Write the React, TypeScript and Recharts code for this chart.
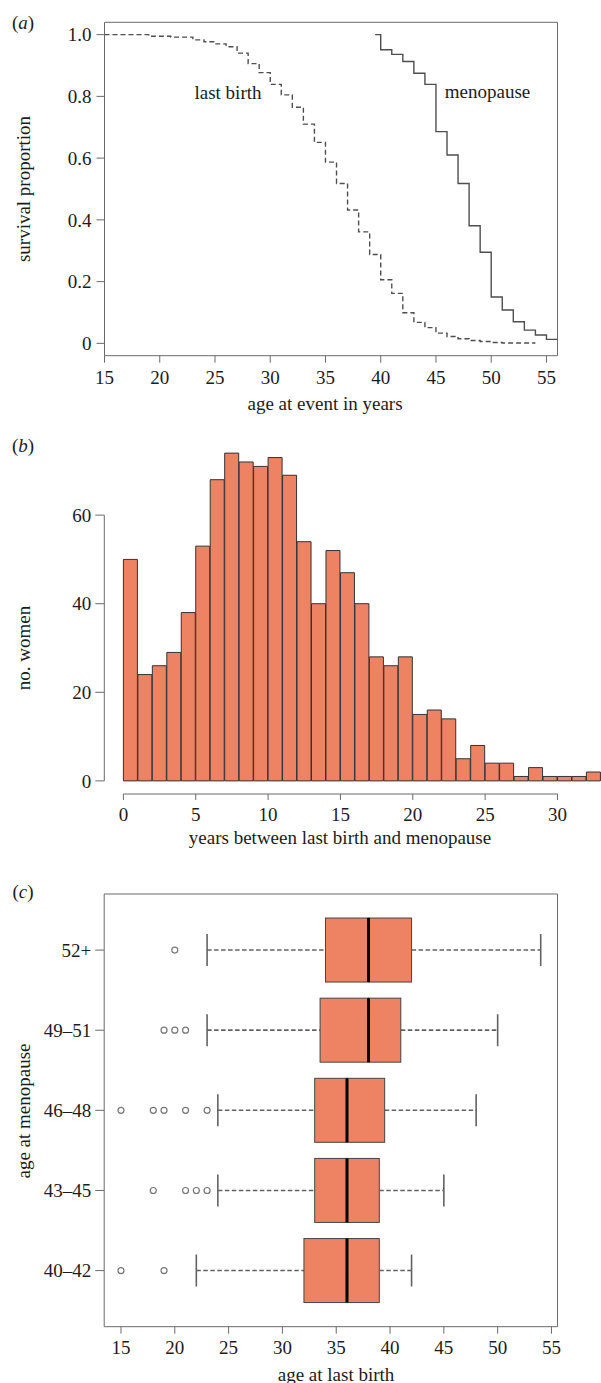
import React from "react";
import { LineChart, Line, BarChart, Bar, ComposedChart, Scatter, XAxis, YAxis, ReferenceLine } from "recharts";

const FONT = '"Liberation Serif", "Times New Roman", serif';
const TXT = "#1c1c1c";
const FRAME = "#6a6a6a";
const CURVE = "#4e4e4e";
const FILL = "#EE8363";

// (a) survival curves
const lastBirthAge = [15, 19, 21, 23, 24, 25, 26, 27, 28, 29, 30, 31, 32, 33, 34, 35, 36, 37, 38, 39, 40, 41, 42, 43, 44, 45, 46, 47, 48, 49, 50, 51, 54];
const lastBirthSurv = [1.0, 0.995, 0.992, 0.983, 0.977, 0.97, 0.961, 0.94, 0.906, 0.877, 0.839, 0.805, 0.765, 0.71, 0.651, 0.587, 0.518, 0.432, 0.361, 0.288, 0.206, 0.162, 0.099, 0.068, 0.051, 0.033, 0.022, 0.015, 0.009, 0.006, 0.003, 0.001, 0.001];
const menoAge = [39.5, 40, 41, 42, 43, 44, 45, 46, 47, 48, 49, 50, 51, 52, 53, 54, 55, 56];
const menoSurv = [1.0, 0.951, 0.936, 0.913, 0.875, 0.839, 0.686, 0.61, 0.518, 0.381, 0.295, 0.15, 0.108, 0.07, 0.043, 0.027, 0.013, 0.013];
const survTicks = [0, 0.2, 0.4, 0.6, 0.8, 1];
const ageTicksA = [15, 20, 25, 30, 35, 40, 45, 50, 55];

// (b) histogram
const binStart = [0, 1, 2, 3, 4, 5, 6, 7, 8, 9, 10, 11, 12, 13, 14, 15, 16, 17, 18, 19, 20, 21, 22, 23, 24, 25, 26, 27, 28, 29, 30, 31, 32];
const binCount = [50, 24, 26, 29, 38, 53, 68, 74, 72, 71, 73, 69, 54, 40, 52, 47, 40, 28, 26, 28, 15, 16, 14, 5, 8, 4, 4, 1, 3, 1, 1, 1, 2];
const gapTicks = [0, 5, 10, 15, 20, 25, 30];
const countTicks = [0, 20, 40, 60];

// (c) box plots
const groups = ["40–42", "43–45", "46–48", "49–51", "52+"];
const whiskerLo = [22, 24, 24, 23, 23];
const q1 = [32, 33, 33, 33.5, 34];
const median = [36, 36, 36, 38, 38];
const q3 = [39, 39, 39.5, 41, 42];
const whiskerHi = [42, 45, 48, 50, 54];
const outliers = [[15, 19], [18, 21, 22, 23], [15, 18, 19, 21, 23], [19, 20, 21], [20]];
const ageTicksC = [15, 20, 25, 30, 35, 40, 45, 50, 55];

const lastBirthPts = lastBirthAge.map((age, i) => ({ age, surv: lastBirthSurv[i] }));
const menoPts = menoAge.map((age, i) => ({ age, surv: menoSurv[i] }));
const histData = binStart.map((b, i) => ({ mid: b + 0.5, count: binCount[i] }));
const boxRows = groups.map((g, i) => ({
  pos: i + 1,
  base: whiskerLo[i],
  lowW: q1[i] - whiskerLo[i],
  lowBox: median[i] - q1[i],
  highBox: q3[i] - median[i],
  highW: whiskerHi[i] - q3[i],
}));
const outlierPts = outliers.flatMap((arr, i) => arr.map((age) => ({ age, pos: i + 1 })));

const tickStyle = { fontSize: 19, fill: TXT, fontFamily: FONT };
const lineStyle = { stroke: FRAME };

function Note({ x, y, rotate, children }: any) {
  return (
    <div
      style={{
        position: "absolute",
        left: x,
        top: y,
        transform: `translate(-50%, -50%)${rotate ? " rotate(-90deg)" : ""}`,
        fontSize: 19,
        lineHeight: 1,
        whiteSpace: "nowrap",
        color: TXT,
      }}
    >
      {children}
    </div>
  );
}

const WHISK = "#626262";
const lowWhisker = (p: any) => {
  const cy = p.y + p.height / 2;
  return (
    <g>
      <line x1={p.x} x2={p.x + p.width} y1={cy} y2={cy} stroke={WHISK} strokeWidth={1.6} strokeDasharray="4.5 2.5" />
      <line x1={p.x} x2={p.x} y1={p.y + p.height / 4} y2={p.y + (p.height * 3) / 4} stroke={WHISK} strokeWidth={1.6} />
    </g>
  );
};
const highWhisker = (p: any) => {
  const cy = p.y + p.height / 2;
  const end = p.x + p.width;
  return (
    <g>
      <line x1={p.x} x2={end} y1={cy} y2={cy} stroke={WHISK} strokeWidth={1.6} strokeDasharray="4.5 2.5" />
      <line x1={end} x2={end} y1={p.y + p.height / 4} y2={p.y + (p.height * 3) / 4} stroke={WHISK} strokeWidth={1.6} />
    </g>
  );
};
const lowerBox = (p: any) => (
  <rect x={p.x} y={p.y} width={p.width} height={p.height} fill={FILL} stroke="#444" strokeWidth={1} />
);
const upperBox = (p: any) => (
  <g>
    <rect x={p.x} y={p.y} width={p.width} height={p.height} fill={FILL} stroke="#444" strokeWidth={1} />
    <line x1={p.x} x2={p.x} y1={p.y} y2={p.y + p.height} stroke="#000" strokeWidth={3} />
  </g>
);

export default function App() {
  return (
    <div
      style={{
        position: "absolute",
        left: 0,
        top: 0,
        width: 601,
        height: 1383,
        overflow: "hidden",
        background: "#fff",
        fontFamily: FONT,
      }}
    >
      {/* (a) */}
      <div style={{ position: "absolute", left: 0, top: 0 }}>
        <LineChart width={601} height={430} margin={{ top: 22.3, right: 43.5, bottom: 34.3, left: 0 }}>
          <XAxis type="number" dataKey="age" domain={[15, 56]} ticks={ageTicksA} allowDataOverflow interval={0}
            height={40} tickSize={7} tickMargin={8} tick={tickStyle} axisLine={lineStyle} tickLine={lineStyle} />
          <YAxis type="number" domain={[-0.04, 1.04]} ticks={survTicks} allowDataOverflow interval={0}
            width={104.5} tickSize={8} tickMargin={5} tick={tickStyle} axisLine={lineStyle} tickLine={lineStyle}
            tickFormatter={(v: number) => (v === 0 ? "0" : v.toFixed(1))} />
          <ReferenceLine y={1.04} stroke={FRAME} ifOverflow="visible" />
          <ReferenceLine x={56} stroke={FRAME} ifOverflow="visible" />
          <Line data={lastBirthPts} dataKey="surv" type="stepAfter" stroke={CURVE} strokeWidth={1.4}
            strokeDasharray="5 3" dot={false} isAnimationActive={false} />
          <Line data={menoPts} dataKey="surv" type="stepAfter" stroke={CURVE} strokeWidth={1.4}
            dot={false} isAnimationActive={false} />
        </LineChart>
      </div>
      <Note x={23} y={22}>(<i>a</i>)</Note>
      <Note x={23} y={189} rotate>survival proportion</Note>
      <Note x={228} y={92}>last birth</Note>
      <Note x={487.5} y={91}>menopause</Note>
      <Note x={325} y={403}>age at event in years</Note>

      {/* (b) */}
      <div style={{ position: "absolute", left: 0, top: 430 }}>
        <BarChart width={640} height={440} data={histData} barCategoryGap={0} barGap={0}
          margin={{ top: 10, right: 20, bottom: 36, left: 0 }}>
          <XAxis type="number" dataKey="mid" domain={[-1.32, 34.32]} ticks={gapTicks} allowDataOverflow interval={0}
            height={40} tickSize={6} tickMargin={8} tick={tickStyle} axisLine={false} tickLine={lineStyle} />
          <YAxis type="number" domain={[-2.96, 76.96]} ticks={countTicks} allowDataOverflow interval={0}
            width={104.3} tickSize={9} tickMargin={4} tick={tickStyle} axisLine={false} tickLine={lineStyle} />
          <ReferenceLine segment={[{ x: 0, y: -2.96 }, { x: 30, y: -2.96 }]} stroke={FRAME} ifOverflow="visible" />
          <ReferenceLine segment={[{ x: -1.32, y: 0 }, { x: -1.32, y: 60 }]} stroke={FRAME} ifOverflow="visible" />
          <Bar dataKey="count" fill={FILL} stroke="#333" strokeWidth={1} isAnimationActive={false} />
        </BarChart>
      </div>
      <Note x={23} y={445}>(<i>b</i>)</Note>
      <Note x={23} y={648} rotate>no. women</Note>
      <Note x={340} y={837}>years between last birth and menopause</Note>

      {/* (c) */}
      <div style={{ position: "absolute", left: 0, top: 880 }}>
        <ComposedChart layout="vertical" width={601} height={503} data={boxRows} barCategoryGap="10%"
          margin={{ top: 14, right: 43.5, bottom: 16.3, left: 0 }}>
          <XAxis type="number" domain={[13.44, 55.56]} ticks={ageTicksC} allowDataOverflow interval={0}
            height={40} tickSize={7} tickMargin={7} tick={tickStyle} axisLine={lineStyle} tickLine={lineStyle} />
          <YAxis type="number" dataKey="pos" domain={[0.3, 5.7]} ticks={[1, 2, 3, 4, 5]} allowDataOverflow interval={0}
            reversed width={104.2} tickSize={9} tickMargin={4} tick={tickStyle} axisLine={lineStyle} tickLine={lineStyle}
            tickFormatter={(v: number) => groups[v - 1]} />
          <XAxis xAxisId="top" orientation="top" type="number" dataKey="age" domain={[13.44, 55.56]} allowDataOverflow
            height={0} tick={false} tickLine={false} axisLine={false} />
          <YAxis yAxisId="right" orientation="right" type="number" dataKey="pos" domain={[0.3, 5.7]} allowDataOverflow
            reversed width={0} tick={false} tickLine={false} axisLine={false} />
          <ReferenceLine y={5.7} stroke={FRAME} ifOverflow="visible" />
          <ReferenceLine x={55.56} stroke={FRAME} ifOverflow="visible" />
          <Bar dataKey="base" stackId="box" shape={() => <g />} isAnimationActive={false} />
          <Bar dataKey="lowW" stackId="box" shape={lowWhisker} isAnimationActive={false} />
          <Bar dataKey="lowBox" stackId="box" shape={lowerBox} isAnimationActive={false} />
          <Bar dataKey="highBox" stackId="box" shape={upperBox} isAnimationActive={false} />
          <Bar dataKey="highW" stackId="box" shape={highWhisker} isAnimationActive={false} />
          <Scatter data={outlierPts} xAxisId="top" yAxisId="right" isAnimationActive={false}
            shape={(p: any) => <circle cx={p.cx} cy={p.cy} r={3} fill="none" stroke="#777" strokeWidth={1.2} />} />
        </ComposedChart>
      </div>
      <Note x={23} y={891}>(<i>c</i>)</Note>
      <Note x={23} y={1111} rotate>age at menopause</Note>
      <Note x={336} y={1374}>age at last birth</Note>
    </div>
  );
}
